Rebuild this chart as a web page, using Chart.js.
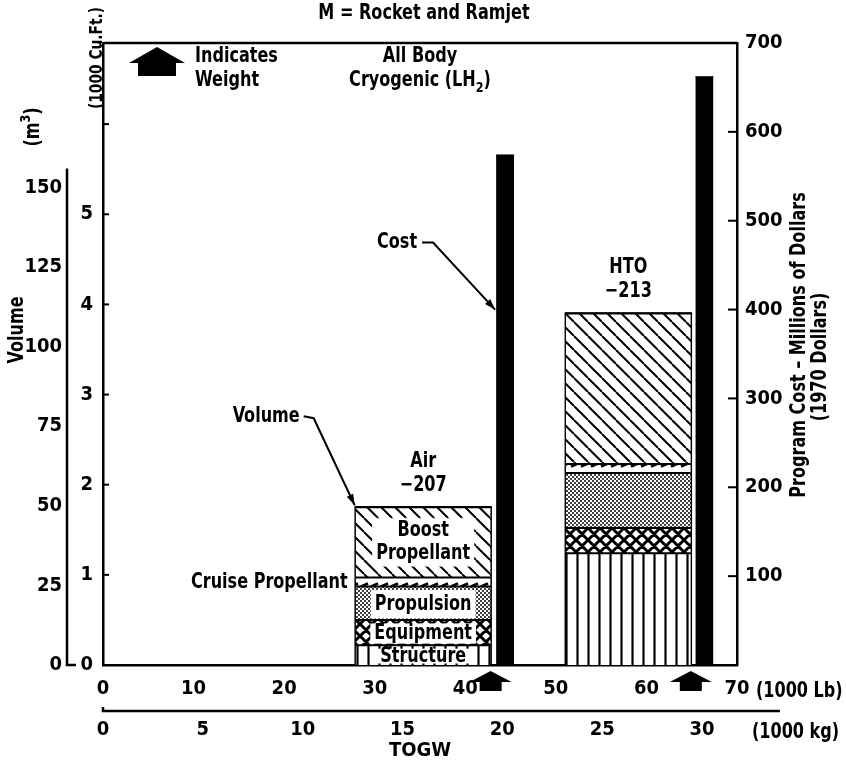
<!DOCTYPE html>
<html>
<head>
<meta charset="utf-8">
<script src="https://cdn.jsdelivr.net/npm/chart.js@4.4.1/dist/chart.umd.min.js"></script>
<style>
body { margin: 0; background: #fff; }
</style>
</head>
<body>
<canvas id="myChart" width="846" height="767"></canvas>
<script>
// ---- data ----
var vehicles = ['Air', 'HTO'];
var vehicleNumbers = ['\u2212207', '\u2212213'];
var togw = [42.8, 64.9];            // 1000 lb
var programCost = [574, 662];       // millions of 1970 dollars
var components = ['Structure', 'Equipment', 'Propulsion', 'Cruise Propellant', 'Boost Propellant'];
var airVolumes = [0.22, 0.28, 0.37, 0.10, 0.78];   // 1000 cu ft, bottom to top
var htoVolumes = [1.24, 0.28, 0.61, 0.10, 1.67];
var lbTicks = [0, 10, 20, 30, 40, 50, 60, 70];
var kgTicks = [0, 5, 10, 15, 20, 25, 30];
var cuftTicks = [0, 1, 2, 3, 4, 5, 6];
var m3Ticks = [0, 25, 50, 75, 100, 125, 150];
var costTicks = [100, 200, 300, 400, 500, 600, 700];

// ---- styling ----
var FONT = '"DejaVu Sans Condensed", "DejaVu Sans", sans-serif';
var SQUEEZE = 0.85;
var M3_PER_KCUFT = 28.3168;
var LB_PER_KG = 2.20462;
var CUFT_MAX = 6.9;
var volBarWidths = [14.9, 13.8];   // 1000 lb
var costGap = [0.6, 0.5];
var costBarWidth = 2.0;

function hatchPattern(size, draw) {
    var c = document.createElement('canvas');
    c.width = size;
    c.height = size;
    var g = c.getContext('2d');
    g.fillStyle = '#fff';
    g.fillRect(0, 0, size, size);
    g.strokeStyle = '#000';
    g.fillStyle = '#000';
    draw(g, size);
    return g.createPattern(c, 'repeat');
}

var patterns = [
    // structure - vertical lines
    hatchPattern(11, function (g, s) {
        g.lineWidth = 2.2;
        g.beginPath(); g.moveTo(5.5, 0); g.lineTo(5.5, s); g.stroke();
    }),
    // equipment - heavy cross hatch
    hatchPattern(12, function (g, s) {
        g.lineWidth = 3;
        g.beginPath();
        for (var k = -1; k <= 1; k++) {
            g.moveTo(k * s, 0); g.lineTo(k * s + s, s);
            g.moveTo(k * s + s, 0); g.lineTo(k * s, s);
        }
        g.stroke();
    }),
    // propulsion - stipple
    hatchPattern(4, function (g, s) {
        g.beginPath(); g.arc(1, 1, 1, 0, Math.PI * 2); g.fill();
        g.beginPath(); g.arc(3, 3, 1, 0, Math.PI * 2); g.fill();
    }),
    // cruise propellant - dashes
    hatchPattern(10, function (g, s) {
        g.lineWidth = 2.5;
        g.beginPath(); g.moveTo(1, 6.5); g.lineTo(8, 3.5); g.stroke();
    }),
    // boost propellant - diagonal lines
    hatchPattern(14, function (g, s) {
        g.lineWidth = 2;
        g.beginPath();
        for (var k = -1; k <= 1; k++) {
            g.moveTo(k * s, 0); g.lineTo(k * s + s, s);
        }
        g.stroke();
    })
];

// ---- datasets ----
var volumeSets = [airVolumes, htoVolumes];
var datasets = [];
vehicles.forEach(function (name, v) {
    var x1 = togw[v];
    var x0 = togw[v] - volBarWidths[v];
    var lo = 0;
    volumeSets[v].forEach(function (vol, c) {
        var hi = lo + vol;
        datasets.push({
            label: name + ' ' + components[c],
            data: [{x: x0, y: hi}, {x: x1, y: hi}],
            yAxisID: 'y',
            fill: {value: lo},
            backgroundColor: patterns[c],
            borderColor: '#000',
            borderWidth: 2,
            pointRadius: 0
        });
        lo = hi;
    });
    datasets.push({
        label: name + ' outline',
        data: [{x: x0, y: 0}, {x: x0, y: lo}, {x: x1, y: lo}, {x: x1, y: 0}],
        yAxisID: 'y',
        fill: false,
        borderColor: '#000',
        borderWidth: 2.5,
        pointRadius: 0
    });
    datasets.push({
        label: name + ' cost',
        data: [{x: x1 + costGap[v], y: programCost[v]}, {x: x1 + costGap[v] + costBarWidth, y: programCost[v]}],
        yAxisID: 'yCost',
        fill: 'origin',
        backgroundColor: '#000',
        borderColor: '#000',
        borderWidth: 1,
        pointRadius: 0
    });
});

// ---- drawing helpers ----
function font(size) {
    return 'bold ' + size + 'px ' + FONT;
}

function partsWidth(ctx, parts, size) {
    var total = 0;
    parts.forEach(function (p) {
        ctx.font = font(p.small ? size * 0.7 : size);
        total += ctx.measureText(p.t).width;
    });
    return total * SQUEEZE;
}

function drawParts(ctx, parts, x, y, align, size) {
    var w = partsWidth(ctx, parts, size);
    var left = align === 'center' ? x - w / 2 : (align === 'right' ? x - w : x);
    ctx.save();
    ctx.translate(left, y);
    ctx.scale(SQUEEZE, 1);
    ctx.textAlign = 'left';
    ctx.textBaseline = 'middle';
    var cx = 0;
    parts.forEach(function (p) {
        ctx.font = font(p.small ? size * 0.7 : size);
        var dy = p.sub ? size * 0.35 : (p.sup ? -size * 0.35 : 0);
        ctx.fillText(p.t, cx, dy);
        cx += ctx.measureText(p.t).width;
    });
    ctx.restore();
}

function txt(ctx, s, x, y, align, size) {
    drawParts(ctx, [{t: s}], x, y, align, size);
}

function rotated(ctx, parts, x, y, size) {
    ctx.save();
    ctx.translate(x, y);
    ctx.rotate(-Math.PI / 2);
    drawParts(ctx, parts, 0, 0, 'center', size);
    ctx.restore();
}

function arrowHead(ctx, fx, fy, tx, ty) {
    var a = Math.atan2(ty - fy, tx - fx);
    ctx.beginPath();
    ctx.moveTo(tx, ty);
    ctx.lineTo(tx - 11 * Math.cos(a) + 3.5 * Math.sin(a), ty - 11 * Math.sin(a) - 3.5 * Math.cos(a));
    ctx.lineTo(tx - 11 * Math.cos(a) - 3.5 * Math.sin(a), ty - 11 * Math.sin(a) + 3.5 * Math.cos(a));
    ctx.closePath();
    ctx.fill();
}

function weightArrow(ctx, cx, ty, half, triH, bodyHalf, bodyH) {
    ctx.beginPath();
    ctx.moveTo(cx, ty);
    ctx.lineTo(cx + half, ty + triH);
    ctx.lineTo(cx + bodyHalf, ty + triH);
    ctx.lineTo(cx + bodyHalf, ty + triH + bodyH);
    ctx.lineTo(cx - bodyHalf, ty + triH + bodyH);
    ctx.lineTo(cx - bodyHalf, ty + triH);
    ctx.lineTo(cx - half, ty + triH);
    ctx.closePath();
    ctx.fill();
}

function labelBox(ctx, lines, cx, cy, size, boxH) {
    var w = 0;
    lines.forEach(function (l) { w = Math.max(w, partsWidth(ctx, [{t: l}], size)); });
    ctx.fillStyle = '#fff';
    ctx.fillRect(cx - w / 2 - 4, cy - boxH / 2, w + 8, boxH);
    ctx.fillStyle = '#000';
    var lh = size * 1.1;
    lines.forEach(function (l, i) {
        txt(ctx, l, cx, cy + (i - (lines.length - 1) / 2) * lh, 'center', size);
    });
}

var decorPlugin = {
    id: 'decor',
    afterDatasetsDraw: function (chart) {
        var ctx = chart.ctx;
        var x = chart.scales.x, y = chart.scales.y;
        ctx.save();
        ctx.fillStyle = '#000';
        // labels inside the Air bar
        var ax0 = x.getPixelForValue(togw[0] - volBarWidths[0]);
        var ax1 = x.getPixelForValue(togw[0]);
        var acx = (ax0 + ax1) / 2;
        var lo = 0;
        airVolumes.forEach(function (vol, c) {
            var hi = lo + vol;
            var pLo = y.getPixelForValue(lo), pHi = y.getPixelForValue(hi);
            var mid = (pLo + pHi) / 2;
            var h = pLo - pHi;
            if (c === 4) {
                labelBox(ctx, ['Boost', 'Propellant'], acx, mid, 21, h - 22);
            } else if (c === 3) {
                txt(ctx, 'Cruise Propellant', ax0 - 8, mid, 'right', 21);
            } else {
                labelBox(ctx, [components[c]], acx, mid + 1, 21, h - 5);
            }
            lo = hi;
        });
        ctx.restore();
    },
    afterDraw: function (chart) {
        var ctx = chart.ctx;
        var area = chart.chartArea;
        var x = chart.scales.x, x2 = chart.scales.x2, y = chart.scales.y;
        var yM3 = chart.scales.yM3, yCost = chart.scales.yCost;
        ctx.save();
        ctx.strokeStyle = '#000';
        ctx.fillStyle = '#000';
        ctx.lineCap = 'butt';

        // frame top
        ctx.lineWidth = 2.5;
        ctx.beginPath();
        ctx.moveTo(area.left, area.top);
        ctx.lineTo(area.right, area.top);
        ctx.stroke();

        // m3 axis line
        var mx = yM3.right;
        ctx.beginPath();
        ctx.moveTo(mx, yM3.getPixelForValue(156));
        ctx.lineTo(mx, yM3.getPixelForValue(0));
        ctx.lineTo(mx + 9, yM3.getPixelForValue(0));
        ctx.stroke();

        // kg axis line
        var ky = x2.top + 10;
        ctx.beginPath();
        ctx.moveTo(x2.getPixelForValue(0), ky - 4);
        ctx.lineTo(x2.getPixelForValue(0), ky);
        ctx.lineTo(x2.getPixelForValue(33.9), ky);
        ctx.stroke();

        // inward ticks
        ctx.lineWidth = 2;
        y.ticks.forEach(function (t) {
            if (t.value === 0) return;
            var py = y.getPixelForValue(t.value);
            ctx.beginPath(); ctx.moveTo(area.left, py); ctx.lineTo(area.left + 6, py); ctx.stroke();
        });
        yCost.ticks.forEach(function (t) {
            if (t.value >= 700) return;
            var py = yCost.getPixelForValue(t.value);
            ctx.beginPath(); ctx.moveTo(area.right, py); ctx.lineTo(area.right - 9, py); ctx.stroke();
        });

        // vehicle labels above the volume bars
        var volumeTops = [airVolumes, htoVolumes].map(function (a) {
            return a.reduce(function (s, v) { return s + v; }, 0);
        });
        vehicles.forEach(function (name, v) {
            var cx = x.getPixelForValue(togw[v] - volBarWidths[v] / 2);
            var top = y.getPixelForValue(volumeTops[v]);
            txt(ctx, name, cx, top - 46, 'center', 21);
            txt(ctx, vehicleNumbers[v], cx, top - 22, 'center', 21);
        });

        // weight arrows under the axis
        togw.forEach(function (w) {
            weightArrow(ctx, x.getPixelForValue(w), area.bottom + 6, 21, 11, 11, 9);
        });

        // cost leader
        ctx.lineWidth = 2;
        var cTipX = x.getPixelForValue(togw[0] + costGap[0]) - 1;
        var cTipY = yCost.getPixelForValue(400);
        txt(ctx, 'Cost', cTipX - 78, cTipY - 67, 'right', 21);
        ctx.beginPath();
        ctx.moveTo(cTipX - 73, cTipY - 67);
        ctx.lineTo(cTipX - 62, cTipY - 67);
        ctx.lineTo(cTipX, cTipY);
        ctx.stroke();
        arrowHead(ctx, cTipX - 62, cTipY - 67, cTipX, cTipY);

        // volume leader
        var vTipX = x.getPixelForValue(togw[0] - volBarWidths[0]) - 1;
        var vTipY = y.getPixelForValue(volumeTops[0]) - 2;
        txt(ctx, 'Volume', vTipX - 55, vTipY - 89, 'right', 21);
        ctx.beginPath();
        ctx.moveTo(vTipX - 51, vTipY - 89);
        ctx.lineTo(vTipX - 41, vTipY - 87);
        ctx.lineTo(vTipX, vTipY);
        ctx.stroke();
        arrowHead(ctx, vTipX - 41, vTipY - 87, vTipX, vTipY);

        // header texts
        txt(ctx, 'M = Rocket and Ramjet', 424, 14, 'center', 21);
        weightArrow(ctx, 157, 47, 28, 16, 19, 13);
        txt(ctx, 'Indicates', 195, 57, 'left', 21);
        txt(ctx, 'Weight', 195, 81, 'left', 21);
        txt(ctx, 'All Body', 420, 57, 'center', 21);
        drawParts(ctx, [{t: 'Cryogenic (LH'}, {t: '2', sub: true, small: true}, {t: ')'}], 420, 81, 'center', 21);

        // axis titles
        rotated(ctx, [{t: 'Volume'}], 18, 330, 21);
        rotated(ctx, [{t: '(m'}, {t: '3', sup: true, small: true}, {t: ')'}], 34, 127, 21);
        rotated(ctx, [{t: '(1000 Cu.Ft.)'}], 97, 58, 18);
        rotated(ctx, [{t: 'Program Cost \u2013 Millions of Dollars'}], 800, 345, 21);
        rotated(ctx, [{t: '(1970 Dollars)'}], 821, 357, 21);
        txt(ctx, '(1000 Lb)', 756, 692, 'left', 21);
        txt(ctx, '(1000 kg)', 752, 733, 'left', 21);
        ctx.restore();
    }
};

function tickFont() {
    return {family: FONT, size: 20, weight: 'bold'};
}

var ctx = document.getElementById('myChart');
var chart = new Chart(ctx, {
    type: 'line',
    data: {datasets: datasets},
    options: {
        responsive: false,
        animation: false,
        events: [],
        layout: {padding: {top: 43, left: 0, right: 0, bottom: 0}},
        plugins: {
            legend: {display: false},
            tooltip: {enabled: false},
            filler: {propagate: false}
        },
        scales: {
            x: {
                type: 'linear', position: 'bottom', min: 0, max: 70, weight: 0,
                grid: {display: false, drawTicks: false},
                border: {display: true, color: '#000', width: 2.5},
                ticks: {color: '#000', font: tickFont(), padding: 12, maxRotation: 0, autoSkip: false},
                afterBuildTicks: function (s) { s.ticks = lbTicks.map(function (v) { return {value: v}; }); },
                afterFit: function (s) { s.height = 36; }
            },
            x2: {
                type: 'linear', position: 'bottom', min: 0, max: 70 / LB_PER_KG, weight: 1,
                grid: {display: false, drawTicks: false},
                border: {display: false},
                ticks: {color: '#000', font: tickFont(), padding: 17, maxRotation: 0, autoSkip: false},
                title: {display: true, text: 'TOGW', color: '#000', font: tickFont(), padding: {top: 0, bottom: 4}},
                afterBuildTicks: function (s) { s.ticks = kgTicks.map(function (v) { return {value: v}; }); },
                afterFit: function (s) { s.height = 66; }
            },
            y: {
                type: 'linear', position: 'left', min: 0, max: CUFT_MAX, weight: 0,
                grid: {display: false, drawTicks: false},
                border: {display: true, color: '#000', width: 2.5},
                ticks: {
                    color: '#000', font: tickFont(), padding: 10,
                    callback: function (v) { return v === 6 ? '' : v; }
                },
                afterBuildTicks: function (s) { s.ticks = cuftTicks.map(function (v) { return {value: v}; }); },
                afterFit: function (s) { s.width = 36; }
            },
            yM3: {
                type: 'linear', position: 'left', min: 0, max: CUFT_MAX * M3_PER_KCUFT, weight: 1,
                grid: {display: false, drawTicks: false},
                border: {display: false},
                ticks: {color: '#000', font: tickFont(), padding: 5},
                afterBuildTicks: function (s) { s.ticks = m3Ticks.map(function (v) { return {value: v}; }); },
                afterFit: function (s) { s.width = 67; }
            },
            yCost: {
                type: 'linear', position: 'right', min: 0, max: 700,
                grid: {display: false, drawTicks: false},
                border: {display: true, color: '#000', width: 2.5},
                ticks: {color: '#000', font: tickFont(), padding: 8},
                afterBuildTicks: function (s) { s.ticks = costTicks.map(function (v) { return {value: v}; }); },
                afterFit: function (s) { s.width = 109; }
            }
        }
    },
    plugins: [decorPlugin]
});
</script>
</body>
</html>
